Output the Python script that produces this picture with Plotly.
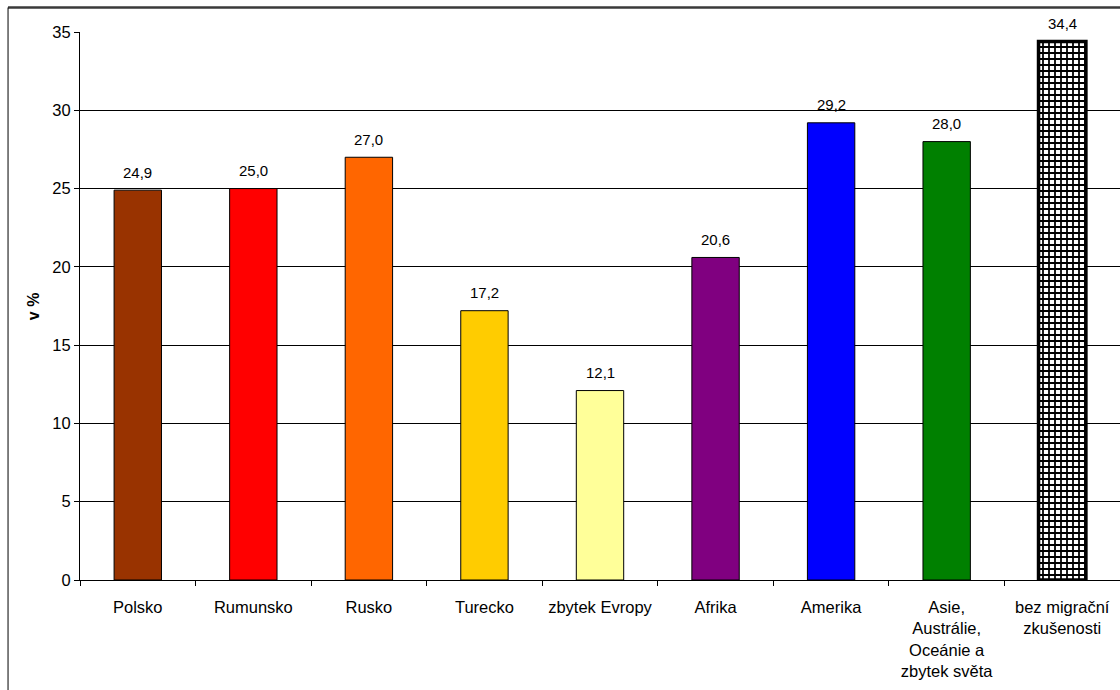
import plotly.graph_objects as go

categories = ["Polsko", "Rumunsko", "Rusko", "Turecko", "zbytek Evropy", "Afrika",
              "Amerika", "Asie,<br>Austrálie,<br>Oceánie a<br>zbytek světa",
              "bez migrační<br>zkušenosti"]
values = [24.9, 25.0, 27.0, 17.2, 12.1, 20.6, 29.2, 28.0, 34.4]
colors = ["#993300", "#FF0000", "#FF6600", "#FFCC00", "#FFFF99", "#800080",
          "#0000FF", "#008000", "#FFFFFF"]
labels = [f"{v:.1f}".replace(".", ",") for v in values]
y_ticks = [0, 5, 10, 15, 20, 25, 30, 35]

FONT = "Liberation Sans, Arial, sans-serif"

fig = go.Figure()
fig.add_trace(go.Bar(
    x=categories[:-1], y=values[:-1],
    marker=dict(color=colors[:-1], line=dict(color="#000000", width=1)),
    width=0.41, showlegend=False, hoverinfo="skip",
))
fig.add_trace(go.Bar(
    x=categories[-1:], y=values[-1:],
    marker=dict(color="#FFFFFF", line=dict(color="#000000", width=3.5),
                pattern=dict(shape="+", fgcolor="#000000", bgcolor="#FFFFFF",
                             fgopacity=1, fillmode="replace",
                             size=6, solidity=0.5)),
    width=0.41, showlegend=False, hoverinfo="skip",
))

for c, v, t in zip(categories, values, labels):
    fig.add_annotation(x=c, y=v, text=t, showarrow=False, yanchor="middle",
                       yshift=18, font=dict(family=FONT, size=15, color="#000000"))

fig.add_annotation(xref="paper", yref="paper", x=-0.045, y=0.5, text="<b>v %</b>",
                   textangle=-90, showarrow=False, xanchor="center", yanchor="middle",
                   font=dict(family=FONT, size=16, color="#000000"))

# outer frame
fig.add_shape(type="line", xref="paper", yref="paper", x0=-0.0692, x1=1.05,
              y0=1.0447, y1=1.0447, line=dict(color="#3a3a3a", width=2.5))
fig.add_shape(type="line", xref="paper", yref="paper", x0=-0.0692, x1=-0.0692,
              y0=1.0447, y1=-0.3, line=dict(color="#000000", width=1))

fig.update_layout(
    width=1120, height=690,
    margin=dict(l=80, r=0, t=32, b=110),
    paper_bgcolor="#FFFFFF", plot_bgcolor="#FFFFFF",
    font=dict(family=FONT, size=16, color="#000000"),
    xaxis=dict(type="category", showline=True, linecolor="#000000", linewidth=1,
               ticks="outside", tickson="boundaries", ticklen=5, tickcolor="#000000",
               showgrid=False, tickfont=dict(size=16.5), ticklabelstandoff=12,
               fixedrange=True),
    yaxis=dict(range=[0, 35], tickvals=y_ticks, showline=True, linecolor="#000000",
               linewidth=1, ticks="outside", ticklen=5, tickcolor="#000000",
               showgrid=True, gridcolor="#000000", gridwidth=1, zeroline=False,
               tickfont=dict(size=16.5), fixedrange=True),
)

fig.write_html("out.html")
